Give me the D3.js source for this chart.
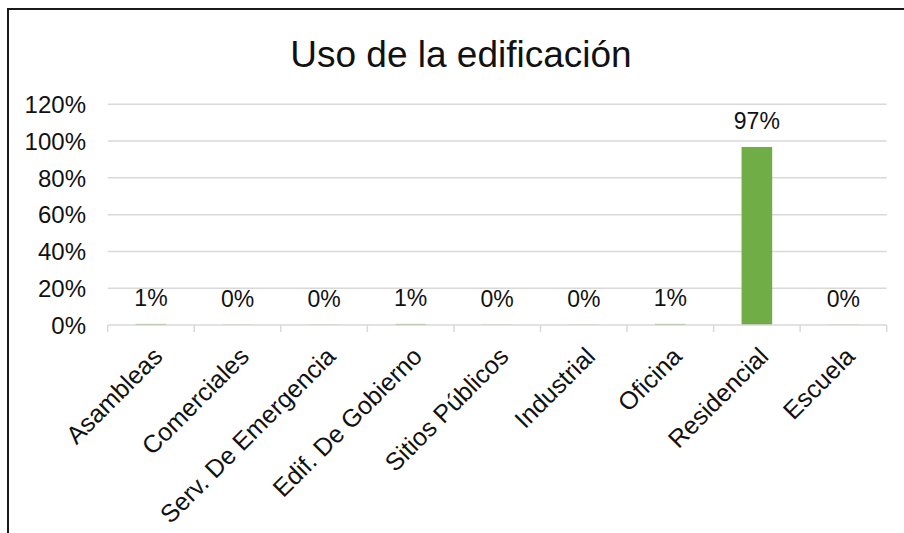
<!DOCTYPE html>
<meta charset="utf-8">
<style>
    body { margin: 0; background: #fff; }
    text { font-family: "Liberation Sans", Arial, sans-serif; }
</style>
<div id="chart"></div>
<script src="https://d3js.org/d3.v7.min.js"></script>
<script>

    var width = 904;
    var height = 533;

    var chartTitle = "Uso de la edificación";
    var categories = ["Asambleas", "Comerciales", "Serv. De Emergencia", "Edif. De Gobierno",
                      "Sitios Públicos", "Industrial", "Oficina", "Residencial", "Escuela"];
    var values = [0.006, 0.002, 0.002, 0.006, 0.002, 0.002, 0.006, 0.968, 0.002];
    var yTicks = [0, 0.2, 0.4, 0.6, 0.8, 1.0, 1.2];

    var plot = {left: 107.7, right: 886.7, top: 104.3, bottom: 325};

    const svg = d3.select("#chart")
                  .append("svg")
                  .attr("width", width)
                  .attr("height", height);

    // outer frame, runs off the bottom/right of the picture
    svg.append("rect")
       .attr("x", 8).attr("y", 9)
       .attr("width", 1000).attr("height", 1000)
       .attr("fill", "none")
       .attr("stroke", "#1a1a1a")
       .attr("stroke-width", 2);

    const x = d3.scaleBand()
                .domain(categories)
                .range([plot.left, plot.right])
                .paddingInner(0.646)
                .paddingOuter(0.323);

    const y = d3.scaleLinear()
                .domain([0, 1.2])
                .range([plot.bottom, plot.top]);

    const pct = d3.format(".0%");

    // gridlines (the 0 line is drawn later, over the bars)
    svg.append("g")
       .selectAll("line")
       .data(yTicks.filter(d => d > 0))
       .join("line")
       .attr("x1", plot.left).attr("x2", plot.right)
       .attr("y1", d => y(d)).attr("y2", d => y(d))
       .attr("stroke", "#d9d9d9")
       .attr("stroke-width", 1.5);

    // y labels
    svg.append("g")
       .selectAll("text")
       .data(yTicks)
       .join("text")
       .attr("x", 86)
       .attr("y", d => y(d))
       .attr("dy", "0.36em")
       .attr("text-anchor", "end")
       .style("font-size", "24px")
       .attr("fill", "#111")
       .text(d => pct(d));

    // bars
    svg.append("g")
       .selectAll("rect")
       .data(values)
       .join("rect")
       .attr("x", (d, i) => x(categories[i]))
       .attr("y", d => y(d))
       .attr("width", x.bandwidth())
       .attr("height", d => y(0) - y(d))
       .attr("fill", "#70ad47");

    // category axis line + tick marks at band boundaries
    const step = x.step();
    svg.append("line")
       .attr("x1", plot.left).attr("x2", plot.right)
       .attr("y1", y(0)).attr("y2", y(0))
       .attr("stroke", "#d9d9d9")
       .attr("stroke-width", 1.5);

    svg.append("g")
       .selectAll("line")
       .data(d3.range(categories.length + 1))
       .join("line")
       .attr("x1", i => plot.left + i * step).attr("x2", i => plot.left + i * step)
       .attr("y1", plot.bottom).attr("y2", plot.bottom + 7)
       .attr("stroke", "#d9d9d9")
       .attr("stroke-width", 1.5);

    // data labels
    svg.append("g")
       .selectAll("text")
       .data(values)
       .join("text")
       .attr("x", (d, i) => x(categories[i]) + x.bandwidth() / 2)
       .attr("y", d => y(d) - 18)
       .attr("text-anchor", "middle")
       .style("font-size", "23px")
       .attr("fill", "#111")
       .text(d => pct(d));

    // category labels, rotated
    svg.append("g")
       .selectAll("text")
       .data(categories)
       .join("text")
       .attr("transform", d => `translate(${x(d) + x.bandwidth() / 2 + 13},${plot.bottom + 33}) rotate(-45)`)
       .attr("text-anchor", "end")
       .style("font-size", "25px")
       .attr("fill", "#111")
       .text(d => d);

    // title
    svg.append("text")
       .attr("x", 461)
       .attr("y", 67)
       .attr("text-anchor", "middle")
       .style("font-size", "37px")
       .attr("fill", "#111")
       .text(chartTitle);

</script>
